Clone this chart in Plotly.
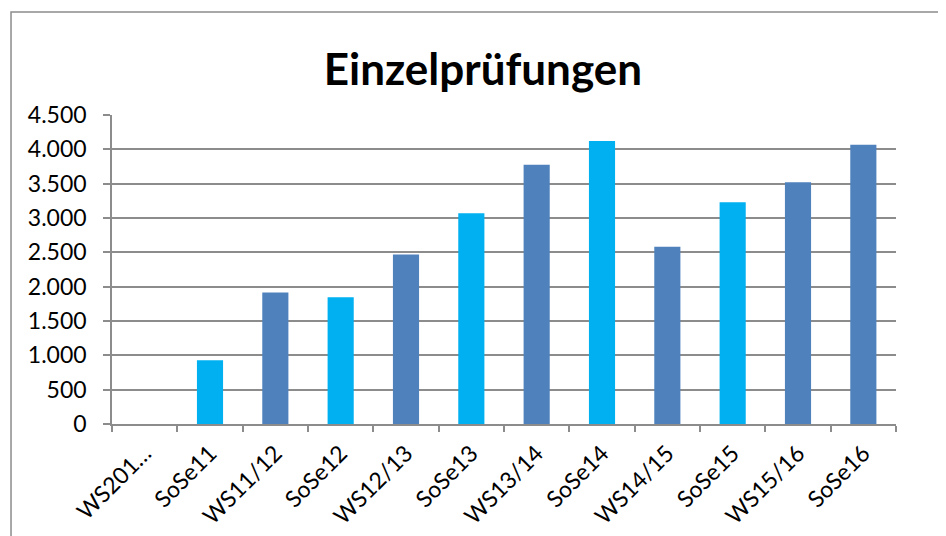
import plotly.graph_objects as go

categories = ["WS201…", "SoSe11", "WS11/12", "SoSe12", "WS12/13", "SoSe13",
              "WS13/14", "SoSe14", "WS14/15", "SoSe15", "WS15/16", "SoSe16"]
values = [0, 930, 1915, 1845, 2470, 3070, 3775, 4120, 2580, 3230, 3520, 4065]
bar_colors = ["#00B0F0", "#00B0F0", "#4F81BD", "#00B0F0", "#4F81BD", "#00B0F0",
              "#4F81BD", "#00B0F0", "#4F81BD", "#00B0F0", "#4F81BD", "#4F81BD"]
y_ticks = [0, 500, 1000, 1500, 2000, 2500, 3000, 3500, 4000, 4500]

GRID = "#8C8C8C"
FONT = "Lato"

fig = go.Figure(go.Bar(
    x=categories, y=values, marker=dict(color=bar_colors, line=dict(width=0)),
))

fig.update_layout(
    width=946, height=536,
    margin=dict(l=104, r=58, t=107, b=120, autoexpand=False),
    paper_bgcolor="white", plot_bgcolor="white",
    separators=",.",
    bargap=0.6,
    showlegend=False,
    font=dict(family=FONT, color="#000000", size=23),
    title=dict(text="<b>Einzelprüfungen</b>", x=0.502, xanchor="center",
               y=0.885, yanchor="middle",
               font=dict(family=FONT, size=44, color="#000000")),
    shapes=[dict(type="rect", xref="paper", yref="paper",
                 x0=-0.1288, x1=1.3, y0=-0.6, y1=1.3333,
                 line=dict(color="#8C8C8C", width=1.5), layer="below")],
)

fig.update_xaxes(
    type="category", showline=True, linecolor=GRID, linewidth=1.5,
    ticks="outside", tickson="boundaries", ticklen=6, tickcolor=GRID, tickwidth=1.5,
    tickangle=-45, showgrid=False, tickfont=dict(size=23, family=FONT),
    ticklabelstandoff=5,
)
fig.update_yaxes(
    range=[0, 4500], tickvals=y_ticks, tickformat=",d",
    showline=True, linecolor=GRID, linewidth=1.5,
    ticks="outside", ticklen=7, tickcolor=GRID, tickwidth=1.5,
    showgrid=True, gridcolor=GRID, gridwidth=1.5, zeroline=False,
    tickfont=dict(size=23, family=FONT), ticklabelstandoff=12,
)

fig.write_html("out.html")
